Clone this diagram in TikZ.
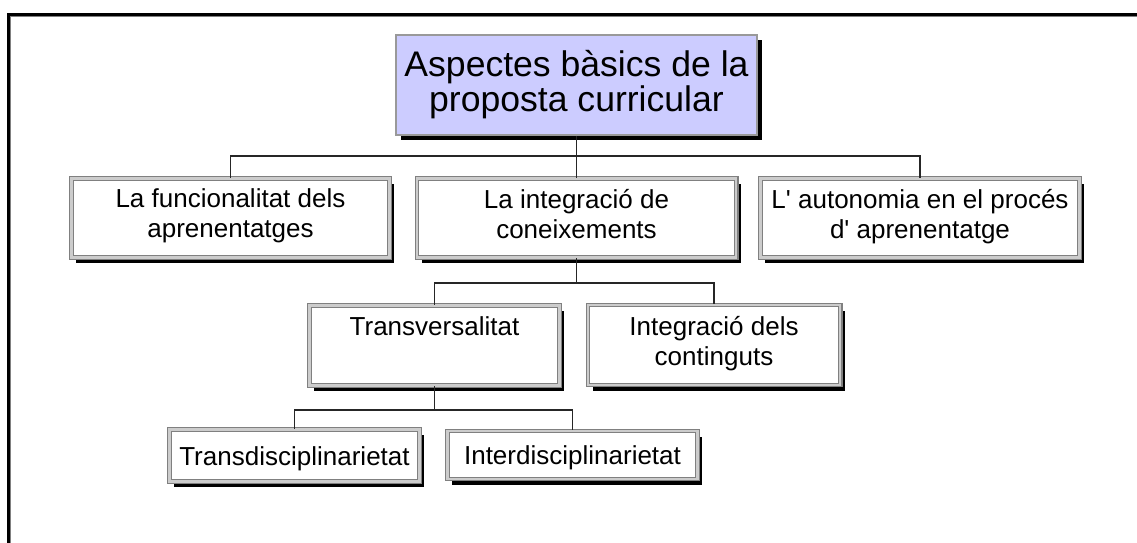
\documentclass[tikz,border=0pt]{standalone}
\usepackage{fontspec}
\setmainfont{Liberation Sans}
\usetikzlibrary{shadows}

\definecolor{lavbox}{RGB}{204,204,255}

\tikzset{
  mainbox/.style={draw=gray!80, line width=1.1pt, fill=lavbox,
    minimum width=9.025cm, minimum height=2.5cm, align=center, inner sep=0pt,
    font=\fontsize{25.3pt}{25pt}\selectfont,
    drop shadow={shadow xshift=0.12cm, shadow yshift=-0.12cm, fill=black, opacity=1}},
  subbox/.style={draw=black!50, line width=0.85pt, double=black!20, double distance=1.8pt,
    fill=white, align=center, inner sep=0pt,
    font=\fontsize{18.5pt}{21.3pt}\selectfont,
    execute at begin node={\rule{0pt}{20.6pt}}, execute at end node=\strut,
    drop shadow={shadow xshift=0.12cm, shadow yshift=-0.14cm, fill=black, opacity=1}},
  link/.style={line width=0.8pt, black!85}
}

\begin{document}
\begin{tikzpicture}[x=0.025cm, y=-0.025cm]

  \useasboundingbox (0,0) rectangle (1137,543);

  \draw[line width=2.2pt] (8.5,543) -- (8.5,14.5) -- (1137,14.5);
  \draw[gray, line width=0.6pt] (10.8,543) -- (10.8,16.8) -- (1137,16.8);

  \node[mainbox] (aspectes) at (576.5,85) {Aspectes bàsics de la\\proposta curricular};

  \node[subbox, minimum width=7.95cm, minimum height=1.975cm] (funcio) at (230.5,218) {La funcionalitat dels\\aprenentatges};
  \node[subbox, minimum width=7.975cm, minimum height=1.975cm] (integ) at (576.5,218) {La integració de\\coneixements};
  \node[subbox, minimum width=7.975cm, minimum height=1.975cm] (auton) at (920,218) {L\textquotesingle{} autonomia en el procés\\d\textquotesingle{} aprenentatge};

  \node[subbox, minimum width=6.25cm, minimum height=2cm] (transv) at (434.5,345.5) {Transversalitat\\};
  \node[subbox, minimum width=6.3cm, minimum height=2cm] (contin) at (714,345) {Integració dels\\continguts};

  \node[subbox, minimum width=6.25cm, minimum height=1.3cm] (transd) at (294.5,455.5) {Transdisciplinarietat};
  \node[subbox, minimum width=6.25cm, minimum height=1.2cm] (interd) at (572.5,455) {Interdisciplinarietat};

  \coordinate (bus1) at (576.5,156);
  \coordinate (bus2) at (576.5,283);
  \coordinate (bus3) at (434.5,410);

  \draw[link] (aspectes.south) -- (integ.north);
  \draw[link] (funcio.north) |- (bus1) -| (auton.north);

  \draw[link] (integ.south) -- (bus2);
  \draw[link] (transv.north) |- (bus2) -| (contin.north);

  \draw[link] (transv.south) -- (bus3);
  \draw[link] (transd.north) |- (bus3) -| (interd.north);

\end{tikzpicture}
\end{document}
